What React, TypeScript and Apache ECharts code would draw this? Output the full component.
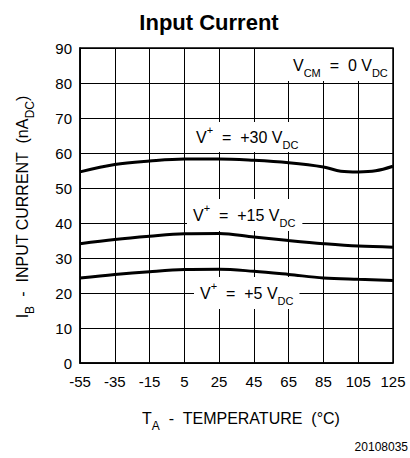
import React, { useEffect, useRef } from "react";
import * as echarts from "echarts";

// ---- data ----
const TEMP_C = [-55, -35, -15, 5, 25, 45, 65, 85, 105, 125];
const TEMP_C_30V = [-55, -35, -15, 5, 25, 45, 65, 85, 95, 105, 115, 125];
const I_30V = [54.6, 56.7, 57.7, 58.3, 58.3, 57.9, 57.2, 56.0, 54.8, 54.6, 54.9, 56.2];
const I_15V = [34.1, 35.3, 36.2, 36.9, 37.0, 36.0, 35.0, 34.1, 33.4, 33.1];
const I_5V = [24.3, 25.3, 26.1, 26.7, 26.8, 26.2, 25.3, 24.3, 23.9, 23.6];
const X_MIN = -55;
const X_MAX = 125;
const X_STEP = 20;
const Y_MIN = 0;
const Y_MAX = 90;
const Y_STEP = 10;

const TITLE = "Input Current";
const FIG_ID = "20108035";

const F = "'Liberation Sans', Arial, Helvetica, sans-serif";

const pairs = (xs: number[], ys: number[]) => xs.map((x, i) => [x, ys[i]]);

const annRich = {
  m: { fontFamily: F, fontSize: 16, lineHeight: 26, fill: "#000", color: "#000", verticalAlign: "middle" },
  sup: { fontFamily: F, fontSize: 11, lineHeight: 14, fill: "#000", color: "#000", verticalAlign: "top" },
  sub: { fontFamily: F, fontSize: 11, lineHeight: 11, fill: "#000", color: "#000", verticalAlign: "bottom" },
};

const axRich = {
  m: { fontFamily: F, fontSize: 16, lineHeight: 28, fill: "#000", color: "#000", verticalAlign: "middle" },
  sub: { fontFamily: F, fontSize: 12, lineHeight: 12, fill: "#000", color: "#000", verticalAlign: "bottom" },
};

export default function App() {
  const ref = useRef<HTMLDivElement>(null);

  useEffect(() => {
    if (!ref.current) return;
    const chart = echarts.init(ref.current, undefined, { renderer: "svg" });

    const lineSeries = (name: string, data: number[][]) => ({
      name,
      type: "line",
      data,
      smooth: 0.35,
      symbol: "none",
      lineStyle: { color: "#000", width: 3 },
      z: 5,
    });

    const ann = (x: number, y: number, text: string, padding: number[]) => ({
      type: "text",
      x,
      y,
      z: 100,
      style: {
        text,
        rich: annRich,
        align: "left",
        verticalAlign: "middle",
        backgroundColor: "#fff",
        padding,
      },
    });

    const option: any = {
      animation: false,
      backgroundColor: "#fff",
      grid: {
        left: 80,
        top: 48,
        width: 313,
        height: 315,
        show: true,
        borderColor: "#000",
        borderWidth: 1.5,
        backgroundColor: "transparent",
        containLabel: false,
        outerBoundsMode: "none",
      },
      xAxis: {
        type: "value",
        min: X_MIN,
        max: X_MAX,
        interval: X_STEP,
        axisLine: { show: true, onZero: false, lineStyle: { color: "#000", width: 1.5 } },
        axisTick: { show: false },
        axisLabel: { color: "#000", fontSize: 15, fontFamily: F, margin: 11, hideOverlap: false },
        splitLine: { show: true, lineStyle: { color: "#000", width: 1 } },
      },
      yAxis: {
        type: "value",
        min: Y_MIN,
        max: Y_MAX,
        interval: Y_STEP,
        axisLine: { show: true, onZero: false, lineStyle: { color: "#000", width: 1.5 } },
        axisTick: { show: false },
        axisLabel: { color: "#000", fontSize: 15, fontFamily: F, margin: 8 },
        splitLine: { show: true, lineStyle: { color: "#000", width: 1 } },
      },
      series: [
        lineSeries("V+ = +30 VDC", pairs(TEMP_C_30V, I_30V)),
        lineSeries("V+ = +15 VDC", pairs(TEMP_C, I_15V)),
        lineSeries("V+ = +5 VDC", pairs(TEMP_C, I_5V)),
      ],
      graphic: [
        {
          type: "text",
          x: 209,
          y: 22,
          z: 100,
          style: { text: TITLE, font: `bold 22px ${F}`, fill: "#000", align: "center", verticalAlign: "middle" },
        },
        ann(288, 65, "{m|V}{sub|CM}{m|  =  0 V}{sub|DC}", [3, 4, 3, 5]),
        ann(190, 137, "{m|V}{sup|+}{m|  =  +30 V}{sub|DC}", [2, 6, 2, 6]),
        ann(187, 215, "{m|V}{sup|+}{m|  =  +15 V}{sub|DC}", [3, 7, 3, 6]),
        ann(194, 293, "{m|V}{sup|+}{m|  =  +5 V}{sub|DC}", [3, 6, 3, 6]),
        {
          type: "text",
          x: 241,
          y: 418,
          z: 100,
          style: {
            text: "{m|T}{sub|A}{m|  -  TEMPERATURE  (°C)}",
            rich: axRich,
            align: "center",
            verticalAlign: "middle",
          },
        },
        {
          type: "text",
          x: 22,
          y: 207,
          rotation: Math.PI / 2,
          z: 100,
          style: {
            text: "{m|I}{sub|B}{m|  -  INPUT CURRENT  (nA}{sub|DC}{m|)}",
            rich: axRich,
            align: "center",
            verticalAlign: "middle",
          },
        },
        {
          type: "text",
          x: 408,
          y: 447,
          z: 100,
          style: { text: FIG_ID, font: `12px ${F}`, fill: "#000", align: "right", verticalAlign: "middle" },
        },
      ],
    };

    chart.setOption(option);
    return () => chart.dispose();
  }, []);

  return (
    <div
      ref={ref}
      style={{ position: "absolute", left: 0, top: 0, width: 410, height: 458, background: "#fff" }}
    />
  );
}
